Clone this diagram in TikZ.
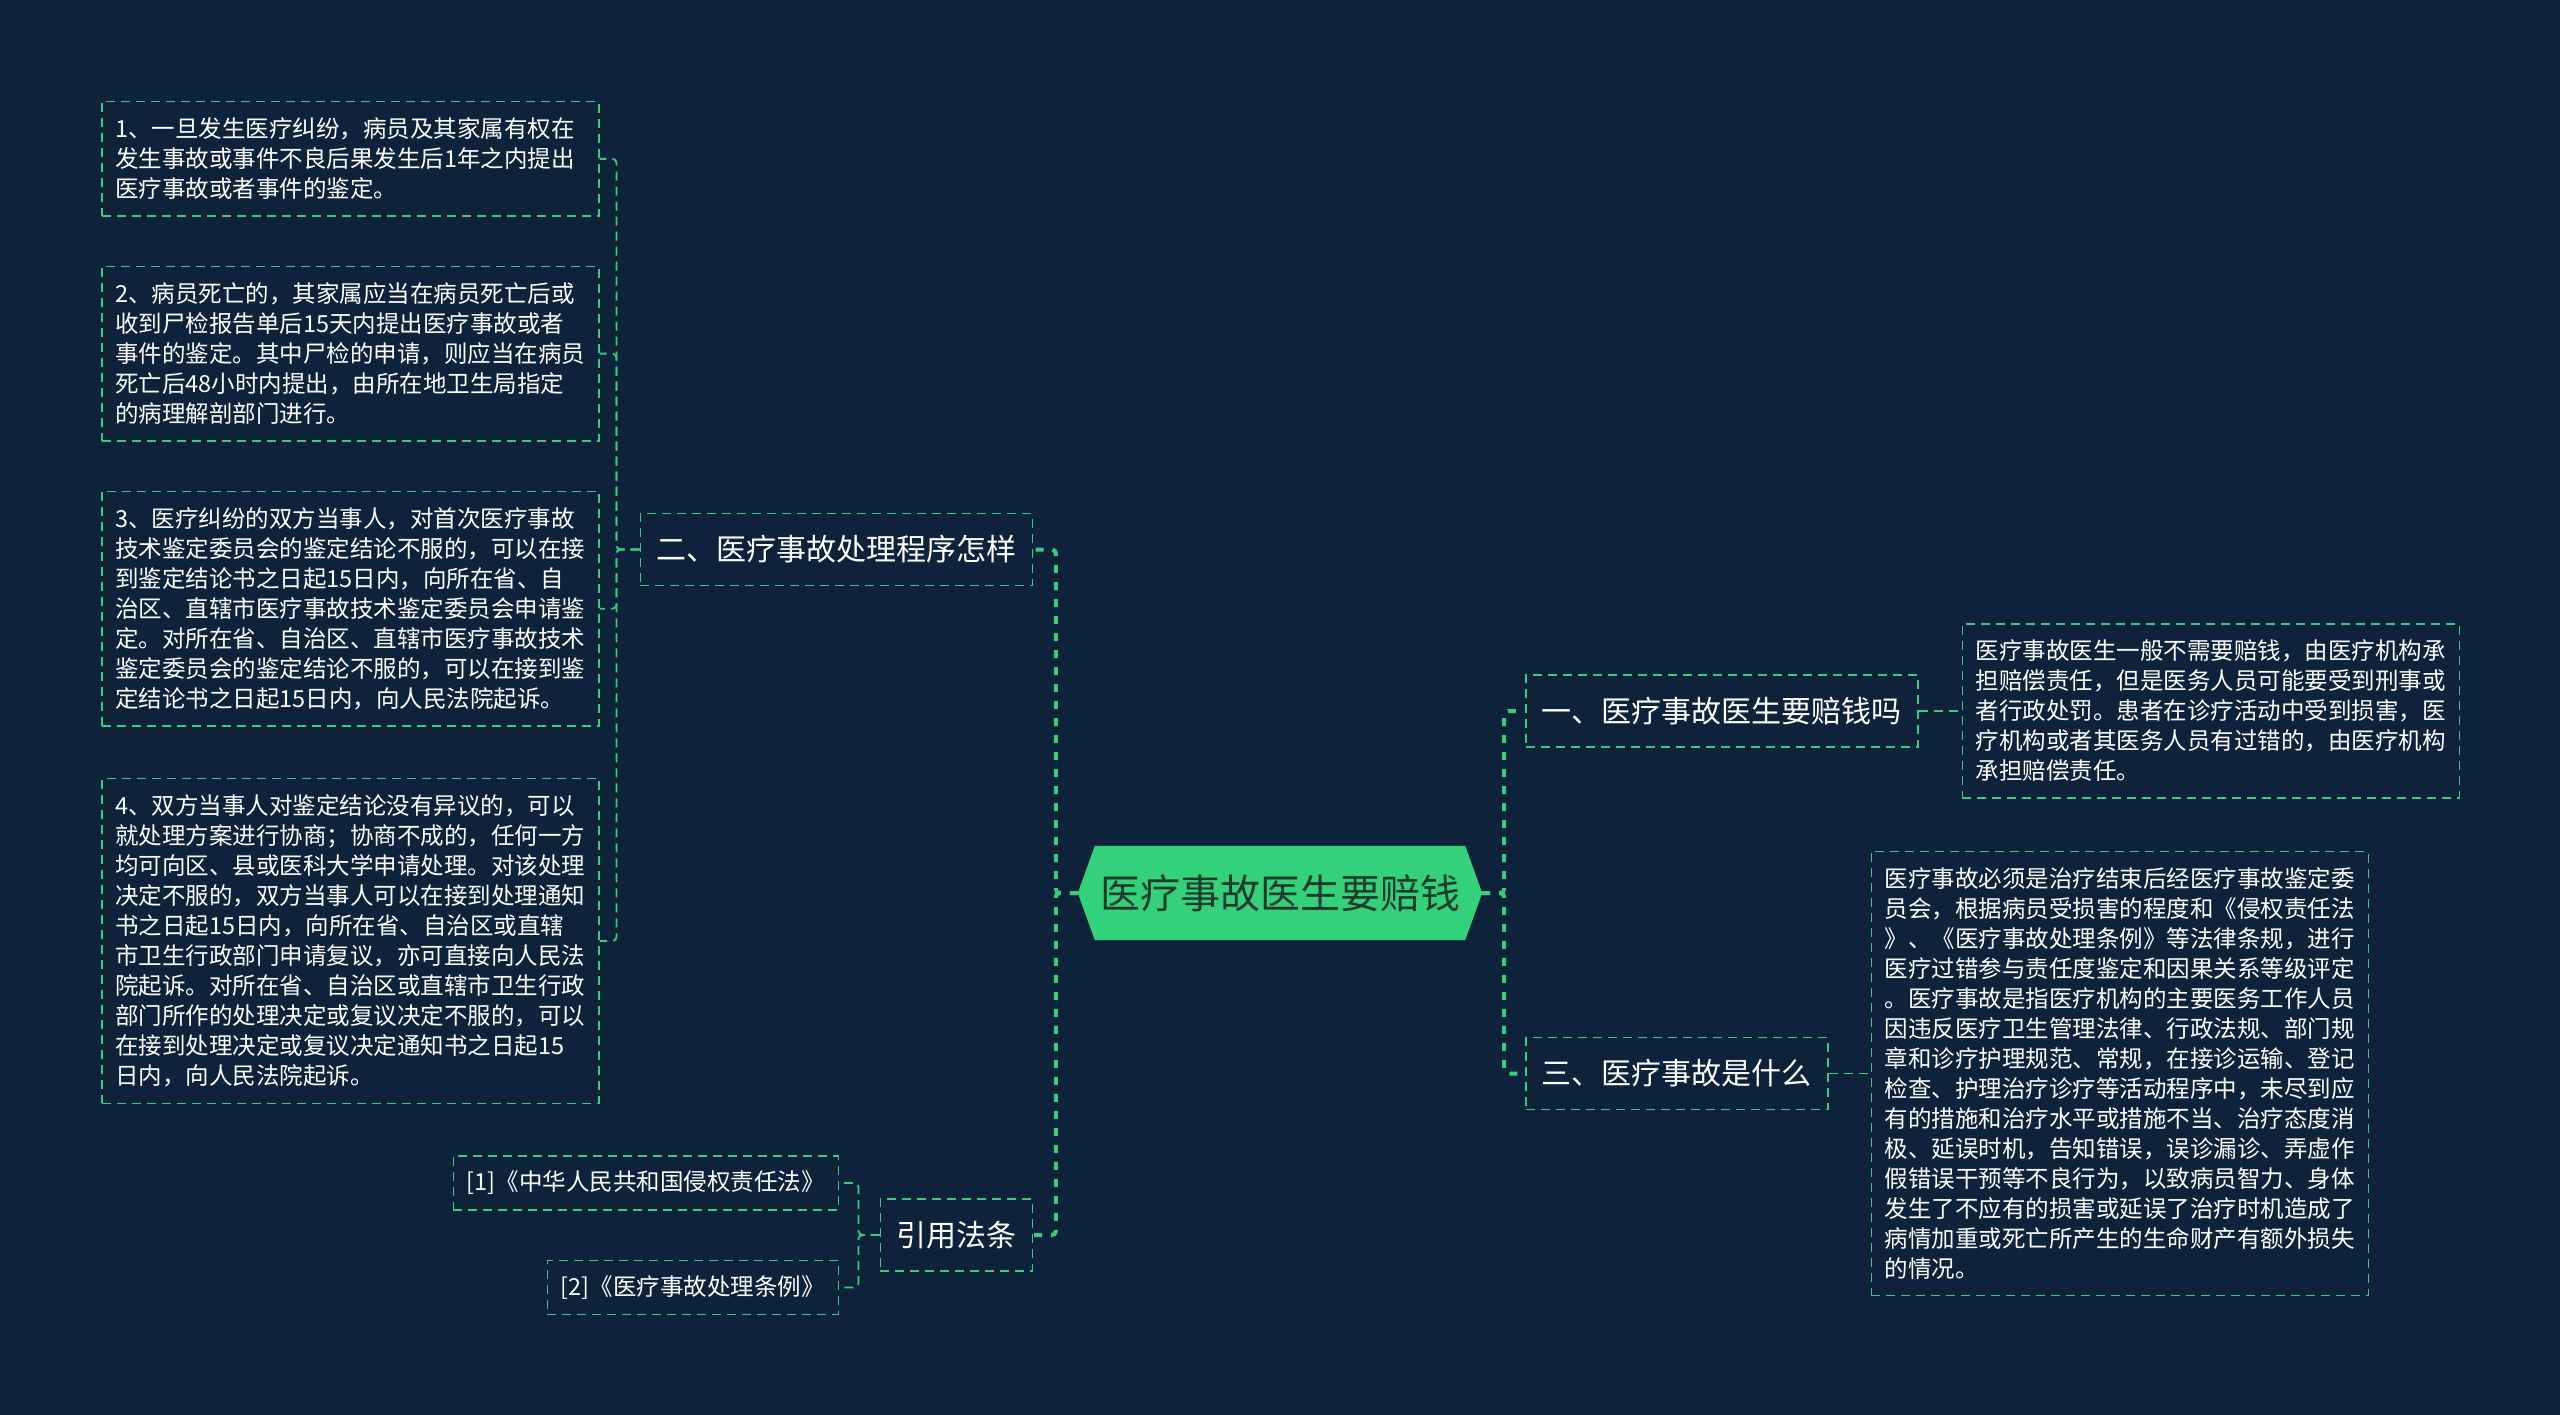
\documentclass[tikz,border=0pt]{standalone}
\usepackage{fontspec}
\newfontfamily\cjk{Noto Sans CJK SC}
\usetikzlibrary{positioning,backgrounds}
\definecolor{colorBg}{HTML}{0E223B}
\definecolor{colorHub}{HTML}{33D17A}
\definecolor{colorHubText}{HTML}{1E3A2C}
\definecolor{colorLine}{HTML}{3CCB7D}

\begin{document}
\begin{tikzpicture}[x=1pt, y=-1pt,
    hubnode/.style={
      rectangle, minimum width=404pt, minimum height=94pt, inner sep=0pt,
      font=\cjk\fontsize{40}{48}\selectfont,
      text=colorHubText
    },
    topicnode/.style={
      rectangle, draw=colorLine, line width=1.5pt, dash pattern=on 9pt off 6pt,
      minimum height=72pt, inner xsep=16pt, inner ysep=0pt,
      font=\cjk\fontsize{30}{36}\selectfont,
      text=white
    },
    notenode/.style={
      rectangle, draw=colorLine, line width=1.5pt, dash pattern=on 9pt off 6pt,
      text width=470pt, align=left, inner xsep=13.5pt, inner ysep=16.2pt,
      font=\cjk\fontsize{23.5}{30}\selectfont,
      text=white
    },
    refnode/.style={
      rectangle, draw=colorLine, line width=1.5pt, dash pattern=on 9pt off 6pt,
      minimum height=54pt, inner xsep=13.5pt, inner ysep=0pt,
      font=\cjk\fontsize{23.5}{30}\selectfont,
      text=white
    },
    trunk/.style={draw=colorLine, line width=4pt, dash pattern=on 8pt off 9pt, rounded corners=4pt},
    twig/.style={draw=colorLine, line width=1.8pt, dash pattern=on 9pt off 6pt, rounded corners=4pt}
  ]
    \node[hubnode] (hub) at (1280,893) {医疗事故医生要赔钱};
    \node[topicnode, anchor=west] (one) at (1525,711) {一、医疗事故医生要赔钱吗};
    \node[topicnode, anchor=east] (two) at (1033,549.5) {二、医疗事故处理程序怎样};
    \node[topicnode, anchor=west] (three) at (1525,1073.5) {三、医疗事故是什么};
    \node[topicnode, anchor=east] (law) at (1033,1235) {引用法条};

    \node[notenode, right=43pt of one] (onenote) {医疗事故医生一般不需要赔钱，由医疗机构承\\担赔偿责任，但是医务人员可能要受到刑事或\\者行政处罚。患者在诊疗活动中受到损害，医\\疗机构或者其医务人员有过错的，由医疗机构\\承担赔偿责任。};
    \node[notenode, right=42pt of three] (threenote) {医疗事故必须是治疗结束后经医疗事故鉴定委\\员会，根据病员受损害的程度和《侵权责任法\\》、《医疗事故处理条例》等法律条规，进行\\医疗过错参与责任度鉴定和因果关系等级评定\\。医疗事故是指医疗机构的主要医务工作人员\\因违反医疗卫生管理法律、行政法规、部门规\\章和诊疗护理规范、常规，在接诊运输、登记\\检查、护理治疗诊疗等活动程序中，未尽到应\\有的措施和治疗水平或措施不当、治疗态度消\\极、延误时机，告知错误，误诊漏诊、弄虚作\\假错误干预等不良行为，以致病员智力、身体\\发生了不应有的损害或延误了治疗时机造成了\\病情加重或死亡所产生的生命财产有额外损失\\的情况。};

    \node[notenode, anchor=north west] (proc1) at (101,101) {1、一旦发生医疗纠纷，病员及其家属有权在\\发生事故或事件不良后果发生后1年之内提出\\医疗事故或者事件的鉴定。};
    \node[notenode, below=49pt of proc1] (proc2) {2、病员死亡的，其家属应当在病员死亡后或\\收到尸检报告单后15天内提出医疗事故或者\\事件的鉴定。其中尸检的申请，则应当在病员\\死亡后48小时内提出，由所在地卫生局指定\\的病理解剖部门进行。};
    \node[notenode, below=49pt of proc2] (proc3) {3、医疗纠纷的双方当事人，对首次医疗事故\\技术鉴定委员会的鉴定结论不服的，可以在接\\到鉴定结论书之日起15日内，向所在省、自\\治区、直辖市医疗事故技术鉴定委员会申请鉴\\定。对所在省、自治区、直辖市医疗事故技术\\鉴定委员会的鉴定结论不服的，可以在接到鉴\\定结论书之日起15日内，向人民法院起诉。};
    \node[notenode, below=51pt of proc3] (proc4) {4、双方当事人对鉴定结论没有异议的，可以\\就处理方案进行协商；协商不成的，任何一方\\均可向区、县或医科大学申请处理。对该处理\\决定不服的，双方当事人可以在接到处理通知\\书之日起15日内，向所在省、自治区或直辖\\市卫生行政部门申请复议，亦可直接向人民法\\院起诉。对所在省、自治区或直辖市卫生行政\\部门所作的处理决定或复议决定不服的，可以\\在接到处理决定或复议决定通知书之日起15\\日内，向人民法院起诉。};

    \node[refnode, anchor=east] (ref1) at (839,1183) {[1]《中华人民共和国侵权责任法》};
    \node[refnode, below=49pt of ref1.south east, anchor=north east] (ref2) {[2]《医疗事故处理条例》};

    \begin{scope}[on background layer]
      \fill[colorBg] (0,0) rectangle (2560,1415);
      \fill[colorHub] (hub.west) -- ([xshift=17pt]hub.north west) -- ([xshift=-17pt]hub.north east)
        -- (hub.east) -- ([xshift=-17pt]hub.south east) -- ([xshift=17pt]hub.south west) -- cycle;
    \end{scope}

    \draw[trunk] (hub.east) -- ++(22,0) |- (one.west);
    \draw[trunk] (hub.east) -- ++(22,0) |- (three.west);
    \draw[trunk] (hub.west) -- ++(-22,0) |- (two.east);
    \draw[trunk] (hub.west) -- ++(-22,0) |- (law.east);

    \draw[twig] (one.east) -- (onenote.west);
    \draw[twig] (three.east) -- (threenote.west);
    \draw[twig] (two.west) -- ++(-23,0) |- (proc1.east);
    \draw[twig] (two.west) -- ++(-23,0) |- (proc2.east);
    \draw[twig] (two.west) -- ++(-23,0) |- (proc3.east);
    \draw[twig] (two.west) -- ++(-23,0) |- (proc4.east);
    \draw[twig] (law.west) -- ++(-21,0) |- (ref1.east);
    \draw[twig] (law.west) -- ++(-21,0) |- (ref2.east);
  \end{tikzpicture}
\end{document}
